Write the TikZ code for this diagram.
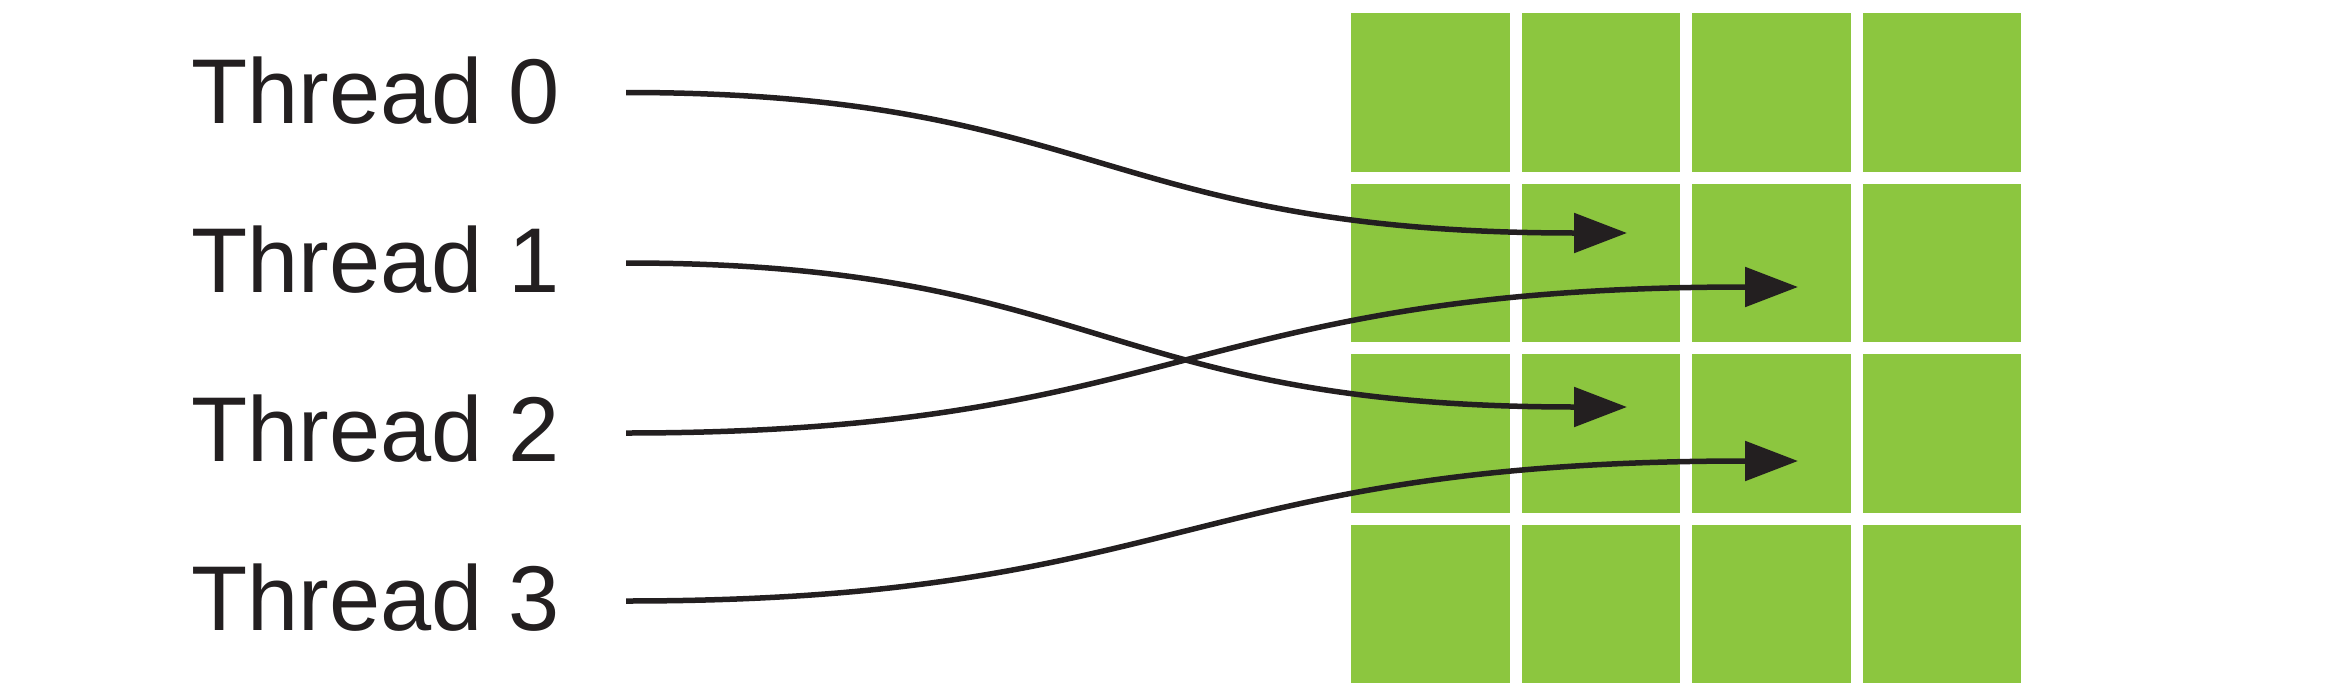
\documentclass[tikz,border=0pt]{standalone}
\usepackage{fontspec}
\setmainfont{Liberation Sans}
\usetikzlibrary{arrows.meta}
\definecolor{cellgreen}{HTML}{8CC63F}
\definecolor{ink}{HTML}{231F20}
\tikzset{
  cell/.style={fill=cellgreen, draw=none, inner sep=0pt, minimum width=158.5pt, minimum height=158.5pt, anchor=north west},
  label/.style={anchor=base west, inner sep=0pt, text=ink, font=\fontsize{92}{92}\selectfont},
  link/.style={draw=ink, line width=5.5pt, -{Triangle[length=53pt, width=39pt]}}
}
\begin{document}
\begin{tikzpicture}[x=1pt,y=-1pt]
\useasboundingbox (0,0) rectangle (2351,699);
% grid
\foreach \r in {0,1,2,3}{
  \foreach \c in {0,1,2,3}{
    \node[cell] (c-\r-\c) at ({1351+170.5*\c},{13+170.5*\r}) {};
  }
}
% labels
\node[label] (t0) at (191,123) {Thread 0};
\node[label] (t1) at (191,292) {Thread 1};
\node[label] (t2) at (191,461) {Thread 2};
\node[label] (t3) at (191,630) {Thread 3};
% end points
\coordinate (s0) at (626,92.5);
\coordinate (s1) at (626,263);
\coordinate (s2) at (626,433);
\coordinate (s3) at (626,601);
\coordinate (e0) at (1627,233);
\coordinate (e1) at (1627,407);
\coordinate (e2) at (1798,287);
\coordinate (e3) at (1798,461);
% connectors
\draw[link] (s0) .. controls (1100,92.5) and (1100,233) .. (e0);
\draw[link] (s1) .. controls (1100,263) and (1100,407) .. (e1);
\draw[link] (s2) .. controls (1185,433) and (1185,287) .. (e2);
\draw[link] (s3) .. controls (1185,601) and (1185,461) .. (e3);
\end{tikzpicture}
\end{document}
